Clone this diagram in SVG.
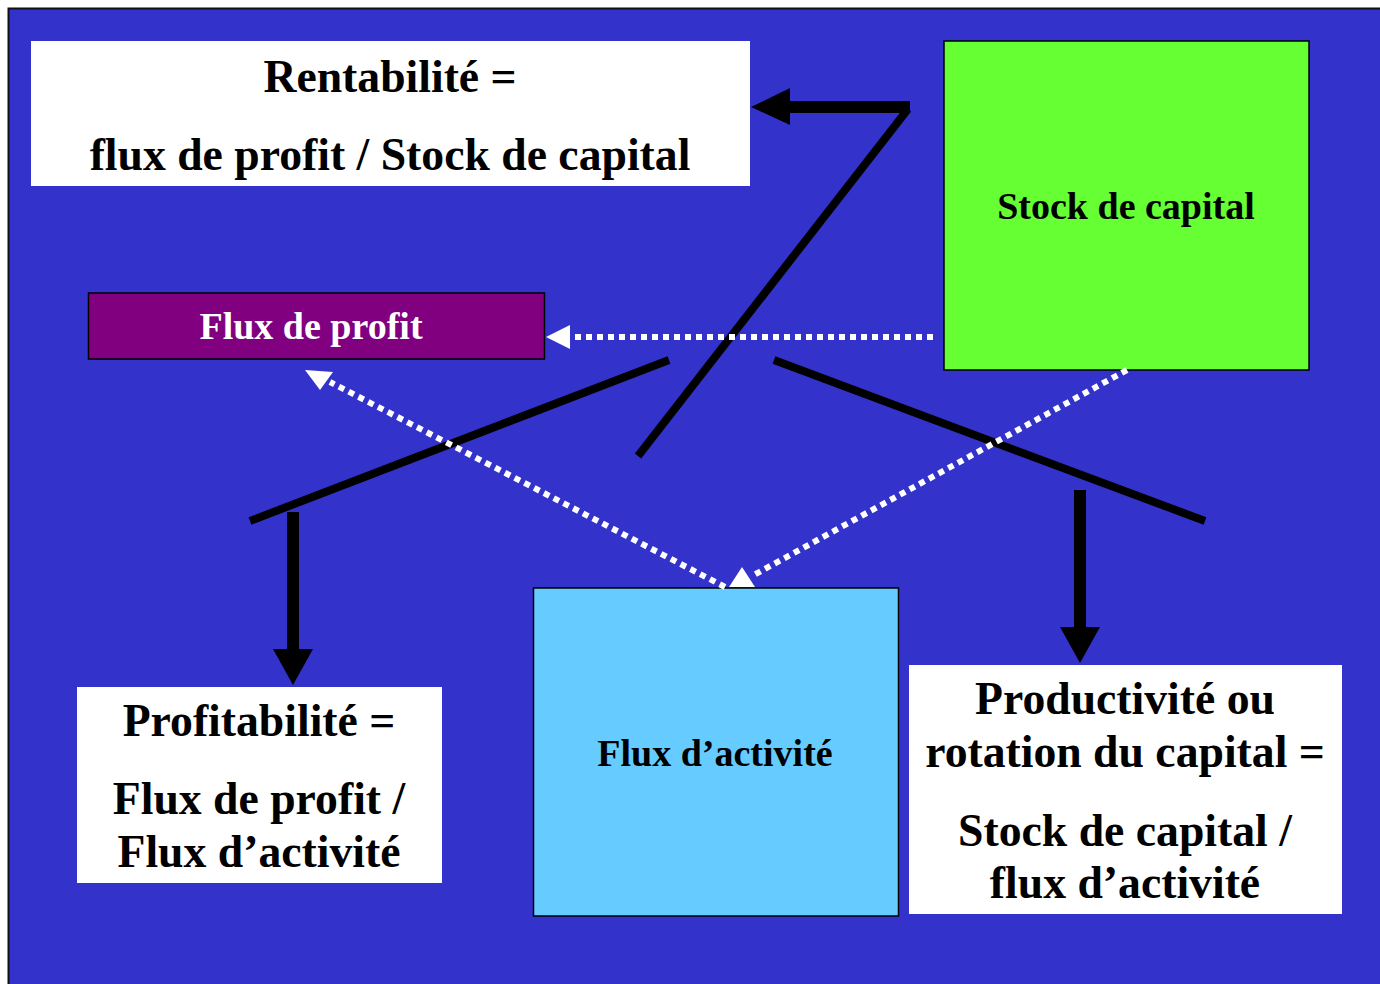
<svg xmlns="http://www.w3.org/2000/svg" width="1380" height="984" viewBox="0 0 1380 984">
<defs>
<style>
.t{font-family:"Liberation Serif","Times New Roman",serif;font-weight:bold;text-anchor:middle;fill:#000}
.big{font-size:45.7px}
.sm{font-size:38px}
.box{stroke:#000;stroke-width:1.5}
.solid{stroke:#000;fill:none;stroke-width:8}
.thick{stroke:#000;fill:none;stroke-width:12}
.dot{stroke:#fff;fill:none;stroke-width:6;stroke-dasharray:6 5}
</style>
</defs>
<rect x="0" y="0" width="1380" height="984" fill="#fff"/>
<rect x="8.5" y="8.5" width="1380" height="990" fill="#3333CC" stroke="#111" stroke-width="2"/>
<g id="rentabilite">
<rect x="31" y="41" width="719" height="145" fill="#fff"/>
<text class="t big" x="390" y="92">Rentabilité =</text>
<text class="t big" x="390" y="170">flux de profit / Stock de capital</text>
</g>
<g id="stock">
<rect class="box" x="944" y="41" width="365" height="329" fill="#66FF33"/>
<text class="t sm" x="1126" y="219">Stock de capital</text>
</g>
<g id="fluxprofit">
<rect class="box" x="88.5" y="293" width="456" height="66" fill="#800080"/>
<text class="t sm" x="311" y="339" style="fill:#fff">Flux de profit</text>
</g>
<g id="fluxactivite">
<rect class="box" x="533.5" y="588" width="365" height="328" fill="#66CCFF"/>
<text class="t sm" x="715" y="766">Flux d’activité</text>
</g>
<g id="profitabilite">
<rect x="77" y="687" width="365" height="196" fill="#fff"/>
<text class="t big" x="259" y="736">Profitabilité =</text>
<text class="t big" x="259" y="814">Flux de profit /</text>
<text class="t big" x="259" y="867">Flux d’activité</text>
</g>
<g id="productivite">
<rect x="909" y="665" width="433" height="249" fill="#fff"/>
<text class="t big" x="1125" y="714">Productivité ou</text>
<text class="t big" x="1125" y="767">rotation du capital =</text>
<text class="t big" x="1125" y="846">Stock de capital /</text>
<text class="t big" x="1125" y="898">flux d’activité</text>
</g>
<g id="connectors">
<line class="thick" x1="910" y1="107" x2="785" y2="107"/>
<polygon points="751,107 790,88 790,125" fill="#000"/>
<line class="solid" x1="908" y1="109" x2="638" y2="456"/>
<line class="solid" x1="250" y1="521" x2="669" y2="360"/>
<line class="solid" x1="774" y1="360" x2="1205" y2="521"/>
<line class="thick" x1="293" y1="512" x2="293" y2="655"/>
<polygon points="293,685 273,649 313,649" fill="#000"/>
<line class="thick" x1="1080" y1="490" x2="1080" y2="632"/>
<polygon points="1080,663 1060,627 1100,627" fill="#000"/>
<line class="dot" x1="933" y1="337" x2="570" y2="337"/>
<polygon points="546,337 570,325 570,349" fill="#fff"/>
<line class="dot" x1="725" y1="587" x2="330" y2="382"/>
<polygon points="305,370 333,372 320,390" fill="#fff"/>
<line class="dot" x1="1127" y1="370" x2="752" y2="576"/>
<polygon points="742,567 729,587 755,587" fill="#fff"/>
</g>
</svg>
